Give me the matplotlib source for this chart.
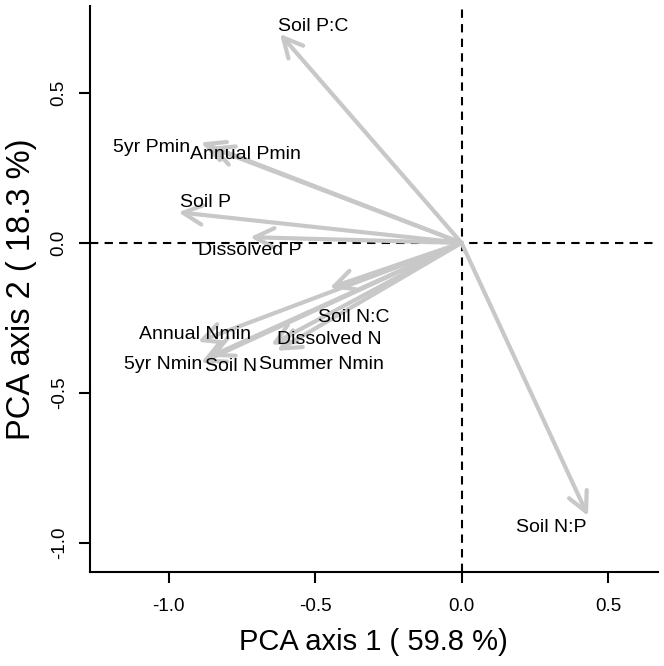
import matplotlib
matplotlib.use('Agg')
import matplotlib.pyplot as plt
import numpy as np

plt.rcParams['font.family'] = ['Liberation Sans', 'DejaVu Sans']
plt.rcParams['axes.unicode_minus'] = False

# PCA loadings (arrow tips)
variables = ['Soil P:C', '5yr Pmin', 'Annual Pmin', 'Soil P', 'Dissolved P',
             'Annual Nmin', '5yr Nmin', 'Soil N', 'Summer Nmin', 'Dissolved N',
             'Soil N:C', 'Soil N:P']
pc1 = [-0.62, -0.89, -0.86, -0.967, -0.722,
       -0.90, -0.89, -0.86, -0.63, -0.65,
       -0.45, 0.432]
pc2 = [0.697, 0.335, 0.32, 0.102, 0.019,
       -0.33, -0.40, -0.38, -0.36, -0.34,
       -0.15, -0.911]

# label anchors
label_x = [-0.507, -1.060, -0.739, -0.876, -0.723,
           -0.910, -1.020, -0.787, -0.477, -0.450,
           -0.368, 0.308]
label_y = [0.723, 0.318, 0.295, 0.135, -0.024,
           -0.307, -0.406, -0.413, -0.406, -0.323,
           -0.250, -0.948]

var_explained = [59.8, 18.3]


fig = plt.figure(figsize=(6.64, 6.66), dpi=100)
ax = fig.add_axes([0.1355, 0.141, 0.855, 0.85])

# origin lines
ax.axhline(0, color='black', lw=1.5, linestyle=(0, (4, 3)), zorder=1)
ax.axvline(0, color='black', lw=1.5, linestyle=(0, (4, 3)), zorder=1)

# loading arrows
for x, y in zip(pc1, pc2):
    ax.annotate('', xy=(x, y), xytext=(0, 0),
                arrowprops=dict(arrowstyle='->,head_length=0.7,head_width=0.35',
                                color='#c8c8c8', lw=3, mutation_scale=20,
                                shrinkA=0, shrinkB=0),
                zorder=2)

for name, x, y in zip(variables, label_x, label_y):
    ax.text(x, y, name, ha='center', va='center', fontsize=14, zorder=3)

ax.set_xlim(-1.269, 0.67)
ax.set_ylim(-1.098, 0.79)
ax.set_xticks([-1.0, -0.5, 0.0, 0.5])
ax.set_yticks([-1.0, -0.5, 0.0, 0.5])
ax.set_yticklabels(['-1.0', '-0.5', '0.0', '0.5'], rotation=90, va='center')
ax.tick_params(labelsize=13.5, length=8, width=1.5)
ax.tick_params(axis='x', pad=11)
ax.tick_params(axis='y', pad=8)

for side in ['top', 'right']:
    ax.spines[side].set_visible(False)
for side in ['left', 'bottom']:
    ax.spines[side].set_linewidth(1.5)

ax.set_xlabel(f'PCA axis 1 ( {var_explained[0]} %)', fontsize=21, labelpad=9)
ax.set_ylabel(f'PCA axis 2 ( {var_explained[1]} %)', fontsize=23.5, labelpad=10)

fig.savefig('out.png', dpi=100)
